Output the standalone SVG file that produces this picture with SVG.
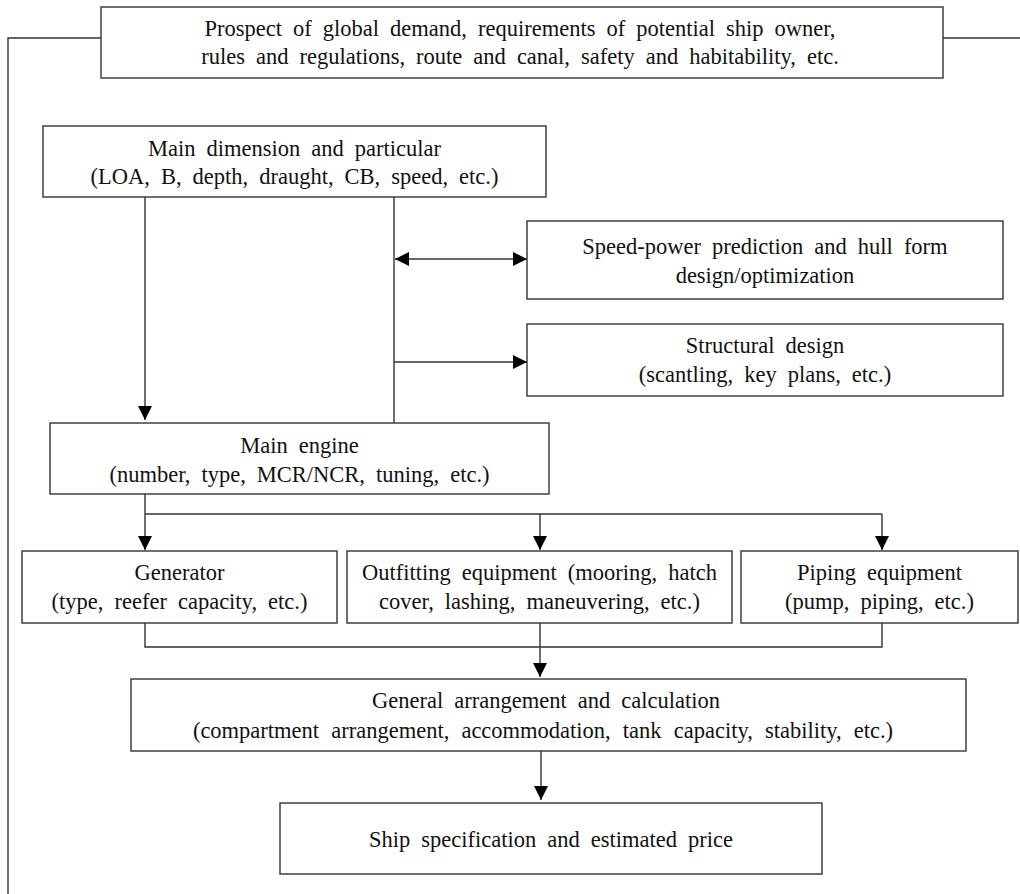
<svg xmlns="http://www.w3.org/2000/svg" width="1020" height="894" viewBox="0 0 1020 894">
<style>
.box{fill:#fff;stroke:#333;stroke-width:1.4}
.t{font-family:"Liberation Serif","Times New Roman",serif;font-size:22.5px;fill:#111;text-anchor:middle;word-spacing:5.4px}
.c{fill:none;stroke:#333;stroke-width:1.4}
</style>
<defs>
<marker id="ah" markerUnits="userSpaceOnUse" markerWidth="14" markerHeight="14" refX="14" refY="7" orient="auto-start-reverse" viewBox="0 0 14 14">
<path d="M0,0 L14,7 L0,14 z" fill="#000"/>
</marker>
</defs>
<rect width="1020" height="894" fill="#fff"/>
<g id="connectors">
<polyline class="c" points="101,38 8,38 8,894"/>
<line class="c" x1="943" y1="38" x2="1020" y2="38"/>
<line class="c" x1="145" y1="197" x2="145" y2="420" marker-end="url(#ah)"/>
<line class="c" x1="394" y1="197" x2="394" y2="423"/>
<line class="c" x1="395" y1="259" x2="527" y2="259" marker-start="url(#ah)" marker-end="url(#ah)"/>
<line class="c" x1="394" y1="362" x2="527" y2="362" marker-end="url(#ah)"/>
<line class="c" x1="145" y1="494" x2="145" y2="550" marker-end="url(#ah)"/>
<line class="c" x1="145" y1="514" x2="882" y2="514"/>
<line class="c" x1="540" y1="514" x2="540" y2="550" marker-end="url(#ah)"/>
<line class="c" x1="882" y1="514" x2="882" y2="550" marker-end="url(#ah)"/>
<polyline class="c" points="145,623 145,647 882,647 882,623"/>
<line class="c" x1="540" y1="623" x2="540" y2="677" marker-end="url(#ah)"/>
<line class="c" x1="541" y1="751" x2="541" y2="800" marker-end="url(#ah)"/>
</g>
<g id="n-top">
<rect class="box" x="101" y="7" width="842" height="71"/>
<text class="t" x="520" y="36">Prospect of global demand, requirements of potential ship owner,</text>
<text class="t" x="520" y="64">rules and regulations, route and canal, safety and habitability, etc.</text>
</g>
<g id="n-main-dim">
<rect class="box" x="43" y="126" width="503" height="71"/>
<text class="t" x="294.5" y="156">Main dimension and particular</text>
<text class="t" x="294.5" y="184">(LOA, B, depth, draught, CB, speed, etc.)</text>
</g>
<g id="n-speed">
<rect class="box" x="527" y="221" width="476" height="78"/>
<text class="t" x="765" y="254">Speed-power prediction and hull form</text>
<text class="t" x="765" y="283">design/optimization</text>
</g>
<g id="n-struct">
<rect class="box" x="527" y="324" width="476" height="72"/>
<text class="t" x="765" y="353">Structural design</text>
<text class="t" x="765" y="382">(scantling, key plans, etc.)</text>
</g>
<g id="n-engine">
<rect class="box" x="50" y="423" width="499" height="71"/>
<text class="t" x="299.5" y="453">Main engine</text>
<text class="t" x="299.5" y="482">(number, type, MCR/NCR, tuning, etc.)</text>
</g>
<g id="n-generator">
<rect class="box" x="22" y="551" width="315" height="72"/>
<text class="t" x="179.5" y="580">Generator</text>
<text class="t" x="179.5" y="609">(type, reefer capacity, etc.)</text>
</g>
<g id="n-outfitting">
<rect class="box" x="347" y="551" width="385" height="72"/>
<text class="t" x="539.5" y="580">Outfitting equipment (mooring, hatch</text>
<text class="t" x="539.5" y="609">cover, lashing, maneuvering, etc.)</text>
</g>
<g id="n-piping">
<rect class="box" x="741" y="551" width="277" height="72"/>
<text class="t" x="879.5" y="580">Piping equipment</text>
<text class="t" x="879.5" y="609">(pump, piping, etc.)</text>
</g>
<g id="n-general">
<rect class="box" x="131" y="679" width="835" height="72"/>
<text class="t" x="546" y="708">General arrangement and calculation</text>
<text class="t" x="543" y="738" style="word-spacing:6.5px">(compartment arrangement, accommodation, tank capacity, stability, etc.)</text>
</g>
<g id="n-ship">
<rect class="box" x="280" y="803" width="542" height="71"/>
<text class="t" x="551" y="847">Ship specification and estimated price</text>
</g>
</svg>
